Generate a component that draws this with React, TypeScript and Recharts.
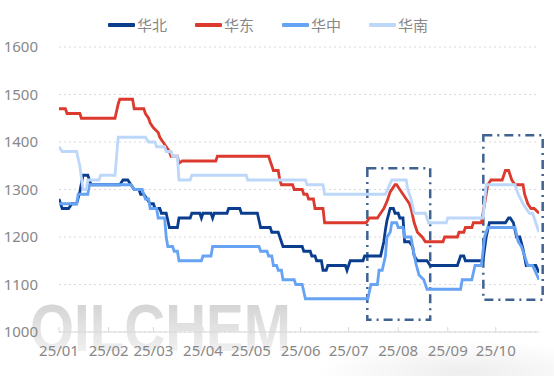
import React from "react";
import {
  LineChart,
  Line,
  XAxis,
  YAxis,
  CartesianGrid,
  Legend,
  ReferenceArea,
} from "recharts";

// day of 2025 (0 = Jan 1) -> price
const huabei: [number, number][] = [
  [0, 1280], [2, 1260], [6, 1260], [8, 1270], [11, 1270], [13, 1295], [15, 1330], [18, 1330],
  [20, 1310], [38, 1310], [40, 1320], [43, 1320], [45, 1310], [47, 1300], [50, 1300], [51, 1290],
  [53, 1290], [55, 1280], [57, 1270], [59, 1270], [60, 1260], [63, 1260], [64, 1250], [67, 1250],
  [69, 1220], [74, 1220], [75, 1240], [82, 1240], [83, 1250], [88, 1250], [89, 1240], [90, 1250],
  [95, 1250], [96, 1240], [97, 1250], [105, 1250], [106, 1260], [113, 1260], [114, 1250], [124, 1250],
  [126, 1220], [132, 1220], [133, 1210], [137, 1210], [138, 1200], [140, 1180], [152, 1180], [153, 1170],
  [157, 1170], [158, 1160], [160, 1160], [161, 1150], [164, 1150], [165, 1130], [167, 1130], [168, 1140],
  [179, 1140], [180, 1130], [181, 1140], [182, 1150], [190, 1150], [191, 1160], [201, 1160], [203, 1190],
  [204, 1215], [205, 1235], [207, 1260], [209, 1260], [210, 1250], [212, 1250], [213, 1240], [215, 1240],
  [216, 1190], [219, 1190], [221, 1180], [222, 1160], [224, 1150], [230, 1150], [232, 1140], [249, 1140],
  [251, 1160], [253, 1160], [254, 1150], [265, 1150], [267, 1200], [269, 1230], [279, 1230], [281, 1240],
  [282, 1240], [284, 1230], [286, 1200], [288, 1200], [290, 1175], [292, 1140], [298, 1140], [300, 1125],
];

const huadong: [number, number][] = [
  [0, 1470], [4, 1470], [5, 1460], [13, 1460], [14, 1450], [35, 1450], [37, 1480], [38, 1490],
  [46, 1490], [47, 1470], [53, 1470], [54, 1460], [56, 1450], [57, 1440], [59, 1430], [62, 1420],
  [63, 1410], [65, 1400], [67, 1390], [69, 1380], [70, 1370], [74, 1370], [75, 1355], [77, 1360],
  [98, 1360], [99, 1370], [131, 1370], [132, 1360], [134, 1340], [137, 1340], [138, 1320], [139, 1310],
  [146, 1310], [147, 1300], [152, 1300], [153, 1290], [155, 1290], [156, 1280], [159, 1280], [160, 1260],
  [165, 1260], [166, 1230], [192, 1230], [194, 1240], [199, 1240], [201, 1250], [203, 1260], [205, 1275],
  [207, 1295], [209, 1305], [210, 1310], [211, 1310], [213, 1300], [215, 1290], [217, 1280], [219, 1270],
  [220, 1260], [222, 1230], [224, 1210], [227, 1200], [229, 1190], [240, 1190], [241, 1200], [249, 1200],
  [250, 1210], [253, 1210], [254, 1220], [258, 1220], [259, 1230], [264, 1230], [266, 1270], [268, 1310],
  [270, 1320], [277, 1320], [279, 1340], [281, 1340], [283, 1320], [285, 1310], [290, 1310], [291, 1290],
  [293, 1270], [295, 1260], [297, 1260], [300, 1250],
];

const huazhong: [number, number][] = [
  [0, 1270], [11, 1270], [12, 1290], [18, 1290], [19, 1310], [45, 1310], [47, 1300], [52, 1300],
  [54, 1280], [56, 1280], [57, 1260], [61, 1260], [62, 1240], [66, 1240], [67, 1200], [68, 1180],
  [71, 1180], [72, 1170], [74, 1170], [75, 1150], [89, 1150], [90, 1160], [95, 1160], [96, 1180],
  [125, 1180], [126, 1170], [130, 1170], [131, 1160], [133, 1160], [134, 1140], [136, 1140], [137, 1130],
  [139, 1130], [140, 1110], [147, 1110], [148, 1100], [152, 1100], [154, 1070], [193, 1070], [195, 1100],
  [199, 1100], [200, 1130], [202, 1130], [204, 1160], [205, 1200], [207, 1210], [208, 1230], [211, 1230],
  [212, 1220], [215, 1220], [216, 1200], [220, 1200], [221, 1180], [223, 1145], [225, 1120], [228, 1110],
  [230, 1090], [251, 1090], [252, 1110], [258, 1110], [260, 1140], [264, 1140], [266, 1200], [268, 1220],
  [285, 1220], [287, 1190], [289, 1180], [291, 1160], [293, 1140], [296, 1140], [300, 1110],
];

const huanan: [number, number][] = [
  [0, 1390], [2, 1380], [11, 1380], [13, 1350], [15, 1300], [17, 1300], [18, 1320], [25, 1320],
  [26, 1330], [35, 1330], [37, 1410], [54, 1410], [56, 1400], [60, 1400], [61, 1390], [66, 1390],
  [67, 1380], [70, 1380], [71, 1370], [74, 1370], [75, 1320], [82, 1320], [83, 1330], [117, 1330],
  [118, 1320], [154, 1320], [155, 1310], [165, 1310], [166, 1290], [204, 1290], [206, 1305], [208, 1320],
  [217, 1320], [218, 1300], [220, 1280], [222, 1250], [229, 1250], [231, 1230], [242, 1230], [243, 1240],
  [265, 1240], [267, 1310], [285, 1310], [287, 1290], [290, 1270], [294, 1250], [296, 1250], [300, 1210],
];

const monthTicks = [0, 31, 59, 90, 120, 151, 181, 212, 243, 273];
const monthLabels = ["25/01", "25/02", "25/03", "25/04", "25/05", "25/06", "25/07", "25/08", "25/09", "25/10"];
const yTicks = [1000, 1100, 1200, 1300, 1400, 1500, 1600];

// highlighted windows: [dayFrom, dayTo, priceLow, priceHigh]
const boxes: [number, number, number, number][] = [
  [192.7, 232, 1026, 1345],
  [265.2, 302.3, 1068, 1414],
];

const series = [
  { name: "华北", color: "#0b3d8f", points: huabei },
  { name: "华东", color: "#dc3a2e", points: huadong },
  { name: "华中", color: "#66a3f4", points: huazhong },
  { name: "华南", color: "#bcd7f9", points: huanan },
];

const FONT = "'Noto Sans', 'Noto Sans CJK SC', sans-serif";

function MonthTick(props: any) {
  const { x, y, payload } = props;
  const i = monthTicks.indexOf(payload.value);
  return (
    <g>
      <line x1={x} x2={x} y1={y - 5} y2={y} stroke="#d9d9d9" />
      <text x={x} y={y + 19} dy="0.35em" textAnchor="middle" fontSize={15} fill="#888">
        {monthLabels[i]}
      </text>
    </g>
  );
}

function LegendRow() {
  return (
    <div style={{ height: 45, display: "flex", alignItems: "center", paddingLeft: 108 }}>
      {series.map((s) => (
        <div key={s.name} style={{ display: "flex", alignItems: "center", marginRight: 28 }}>
          <span style={{ width: 27, height: 4, background: s.color, marginRight: 2, borderRadius: 1 }} />
          <span style={{ fontSize: 15, color: "#888", lineHeight: "20px" }}>{s.name}</span>
        </div>
      ))}
    </div>
  );
}

export default function App() {
  return (
    <div
      style={{
        position: "absolute",
        left: 0,
        top: 0,
        width: 554,
        height: 376,
        background: "#fff",
        fontFamily: FONT,
        overflow: "hidden",
      }}
    >
      {/* watermark sits behind the chart */}
      <svg width={554} height={376} style={{ position: "absolute", left: 0, top: 0 }}>
        <defs>
          <linearGradient id="wm" x1="0" y1="0" x2="0" y2="1">
            <stop offset="0%" stopColor="#c4c4c4" />
            <stop offset="100%" stopColor="#f7f7f7" />
          </linearGradient>
          <radialGradient id="blur" cx="0.5" cy="0.5" r="0.5">
            <stop offset="0%" stopColor="#000" stopOpacity={0.07} />
            <stop offset="100%" stopColor="#000" stopOpacity={0} />
          </radialGradient>
        </defs>
        <ellipse cx={465} cy={372} rx={150} ry={32} fill="url(#blur)" />
        <text
          x={30}
          y={351}
          fontSize={66}
          fontWeight={700}
          fontFamily="'Liberation Sans', Arial, sans-serif"
          textLength={261}
          lengthAdjust="spacingAndGlyphs"
          fill="url(#wm)"
          opacity={0.85}
        >
          OILCHEM
        </text>
      </svg>
      <div style={{ position: "absolute", left: 0, top: 0 }}>
        <LineChart width={554} height={376} margin={{ top: 2, right: 15, bottom: 0, left: 0 }}>
          <CartesianGrid horizontal vertical={false} stroke="#d9d9d9" strokeDasharray="2 3" />
          <XAxis
            dataKey="d"
            type="number"
            domain={[0, 300]}
            ticks={monthTicks}
            interval={0}
            height={44}
            tickSize={0}
            tickMargin={0}
            tickLine={false}
            axisLine={{ stroke: "#d9d9d9" }}
            tick={<MonthTick />}
            allowDataOverflow
          />
          <YAxis
            type="number"
            domain={[1000, 1600]}
            ticks={yTicks}
            interval={0}
            width={59}
            tickSize={0}
            tickMargin={21}
            axisLine={false}
            tickLine={false}
            tick={{ fontSize: 15, fill: "#888" }}
          />
          <Legend verticalAlign="top" content={<LegendRow />} />
          {series.map((s) => (
            <Line
              key={s.name}
              name={s.name}
              data={s.points.map(([d, v]) => ({ d, v }))}
              dataKey="v"
              type="linear"
              stroke={s.color}
              strokeWidth={2.8}
              dot={false}
              activeDot={false}
              isAnimationActive={false}
            />
          ))}
          {boxes.map(([x1, x2, y1, y2], i) => (
            <ReferenceArea
              key={i}
              x1={x1}
              x2={x2}
              y1={y1}
              y2={y2}
              ifOverflow="visible"
              fill="none"
              fillOpacity={0}
              stroke="#3f6292"
              strokeWidth={2.5}
              strokeDasharray="9 5 2 5"
            />
          ))}
        </LineChart>
      </div>
    </div>
  );
}
